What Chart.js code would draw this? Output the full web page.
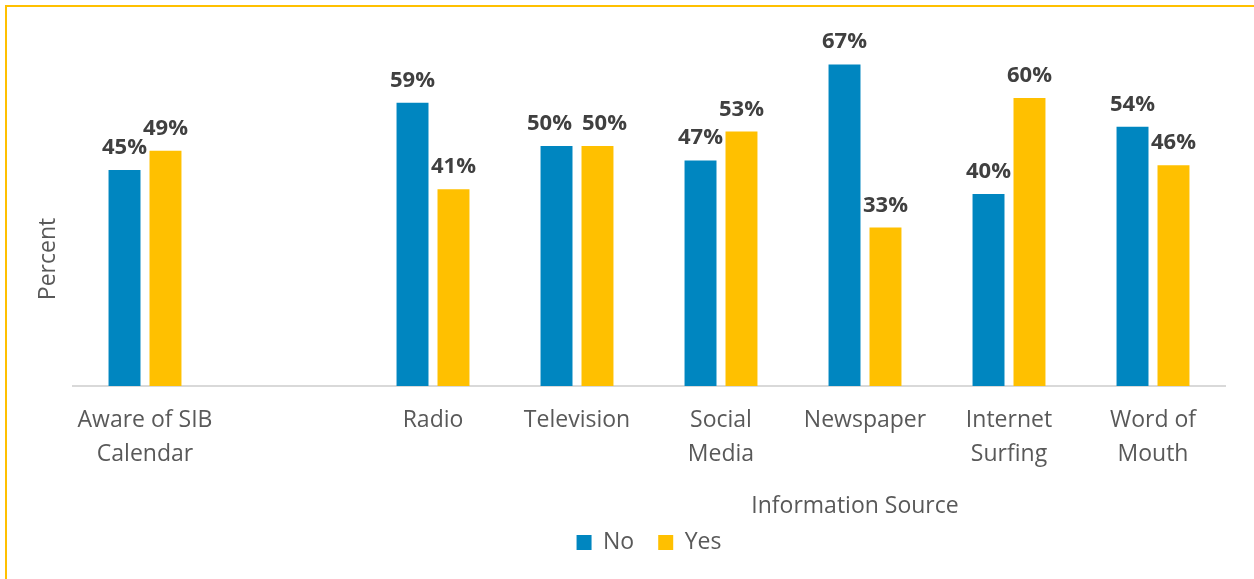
<!DOCTYPE html>
<html>
<head>
<meta charset="utf-8">
<script src="https://cdn.jsdelivr.net/npm/chart.js@4.4.0/dist/chart.umd.min.js"></script>
<style>
  html, body { margin: 0; padding: 0; background: #fff; }
  #wrap { position: relative; width: 1254px; height: 579px; }
</style>
</head>
<body>
<div id="wrap">
  <canvas id="sourceChart" width="1254" height="579"></canvas>
</div>

<script>
    // данные графика
    const categories = [
        ['Aware of SIB', 'Calendar'],
        [''],
        ['Radio'],
        ['Television'],
        ['Social', 'Media'],
        ['Newspaper'],
        ['Internet', 'Surfing'],
        ['Word of', 'Mouth']
    ];
    const noValues  = [45, null, 59, 50, 47, 67, 40, 54];
    const yesValues = [49, null, 41, 50, 53, 33, 60, 46];
    const seriesNames = ['No', 'Yes'];
    const xTitle = 'Information Source';
    const yTitle = 'Percent';

    const FONT = '"Open Sans", "Noto Sans", sans-serif';

    // подписи значений над столбцами (раздвигаем, если налезают)
    const valueLabels = {
        id: 'valueLabels',
        afterDatasetsDraw(chart) {
            const ctx = chart.ctx;
            ctx.save();
            ctx.font = 'bold 22px ' + FONT;
            ctx.fillStyle = '#404040';
            ctx.textAlign = 'center';
            ctx.textBaseline = 'alphabetic';
            const m0 = chart.getDatasetMeta(0).data;
            const m1 = chart.getDatasetMeta(1).data;
            chart.data.labels.forEach((_, j) => {
                const a = noValues[j], b = yesValues[j];
                if (a === null || b === null) return;
                const ta = a + '%', tb = b + '%';
                const wa = ctx.measureText(ta).width, wb = ctx.measureText(tb).width;
                let xa = m0[j].x, xb = m1[j].x;
                const ya = m0[j].y - 16, yb = m1[j].y - 16;
                if (Math.abs(ya - yb) < 18) {
                    const overlap = (xa + wa / 2) - (xb - wb / 2) + 10;
                    if (overlap > 0) { xa -= overlap / 2; xb += overlap / 2; }
                }
                ctx.fillText(ta, xa, ya);
                ctx.fillText(tb, xb, yb);
            });
            ctx.restore();
        }
    };

    // рамка и подписи осей
    const decorations = {
        id: 'decorations',
        afterDraw(chart) {
            const ctx = chart.ctx;
            ctx.save();
            ctx.strokeStyle = '#FFC000';
            ctx.lineWidth = 2;
            ctx.beginPath();
            ctx.moveTo(6, 579);
            ctx.lineTo(6, 6);
            ctx.lineTo(1254, 6);
            ctx.stroke();

            ctx.fillStyle = '#595959';
            ctx.font = '23px ' + FONT;
            ctx.textAlign = 'center';
            ctx.textBaseline = 'middle';
            ctx.fillText(xTitle, 855, 506);

            ctx.translate(48, 259);
            ctx.rotate(-Math.PI / 2);
            ctx.fillText(yTitle, 0, 0);
            ctx.restore();
        }
    };

    const data = {
        labels: categories,
        datasets: [
            {
                label: seriesNames[0],
                data: noValues,
                backgroundColor: '#0086C0',
                categoryPercentage: 0.569,
                barPercentage: 0.78
            },
            {
                label: seriesNames[1],
                data: yesValues,
                backgroundColor: '#FFC000',
                categoryPercentage: 0.569,
                barPercentage: 0.78
            }
        ]
    };

    const config = {
        type: 'bar',
        data: data,
        options: {
            responsive: false,
            animation: false,
            layout: { padding: { left: 73, right: 29, top: 50, bottom: 15 } },
            plugins: {
                legend: {
                    position: 'bottom',
                    labels: {
                        color: '#595959',
                        font: { family: FONT, size: 23 },
                        boxWidth: 15,
                        boxHeight: 15,
                        padding: 24,
                        useBorderRadius: false
                    }
                },
                tooltip: { enabled: false }
            },
            scales: {
                x: {
                    grid: { display: false, drawTicks: false },
                    border: { color: '#D9D9D9', width: 2 },
                    ticks: {
                        color: '#595959',
                        font: { family: FONT, size: 23, lineHeight: 1.48 },
                        padding: 17,
                        maxRotation: 0,
                        autoSkip: false
                    },
                    afterFit(scale) { scale.height = 121; }
                },
                y: {
                    display: false,
                    min: 0,
                    max: 70
                }
            }
        },
        plugins: [valueLabels, decorations]
    };

    new Chart(document.getElementById('sourceChart'), config);
</script>
</body>
</html>
